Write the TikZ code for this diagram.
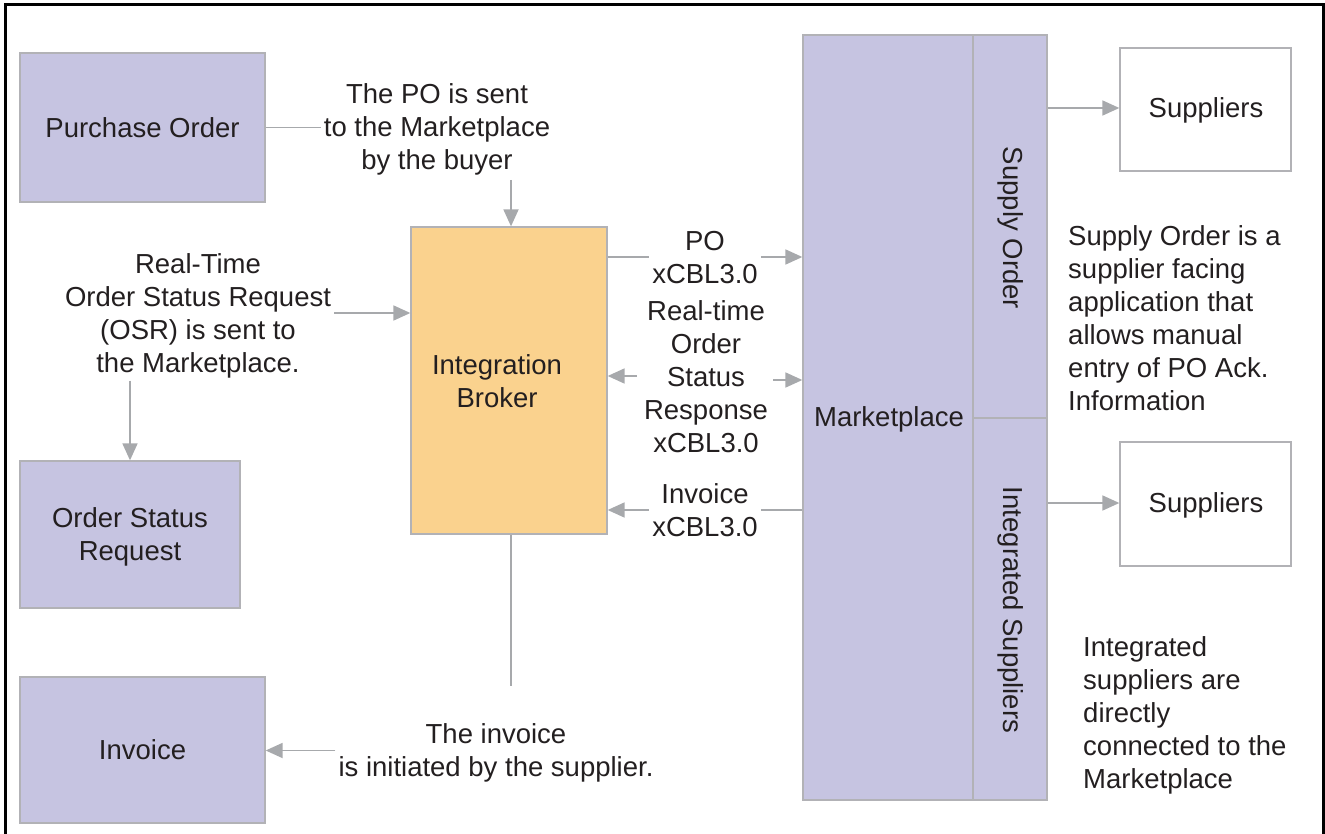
\documentclass[tikz,border=0pt]{standalone}
\usepackage{fontspec}
\setmainfont{Liberation Sans}
\usetikzlibrary{arrows.meta}
\definecolor{lav}{HTML}{C6C4E1}
\definecolor{orng}{HTML}{FAD28E}
\definecolor{edge}{HTML}{B2B2B6}
\definecolor{wire}{HTML}{A7A9AC}
\definecolor{ink}{HTML}{231F20}
\tikzset{
  txt/.style={font=\fontsize{27.5}{33}\selectfont, text=ink, inner sep=3pt},
  flat/.style={txt, text depth=0pt},
  lbl/.style={flat, align=center},
  note/.style={flat, align=left, anchor=west},
  blk/.style={txt, draw=edge, line width=1.3pt, align=center, inner sep=0pt},
  pbox/.style={blk, fill=lav},
  obox/.style={blk, fill=orng},
  wbox/.style={blk, fill=white},
  conn/.style={draw=wire, line width=1.8pt},
  arr/.style={conn, -{Triangle[length=17pt,width=15pt]}},
}
\begin{document}
\begin{tikzpicture}[x=1pt,y=-1pt]
\useasboundingbox (0,0) rectangle (1325,834);
% outer frame, open at the bottom edge
\draw[line width=3pt, line join=miter] (5,840) -- (5,5) -- (1323,5) -- (1323,840);

% left-hand document boxes
\node[pbox, minimum width=245pt, minimum height=149pt] (po) at (142.5,127.5) {Purchase Order};
\node[pbox, minimum width=220pt, minimum height=147pt] (osr) at (130,534.5) {};
\node[lbl] (osrtext) at (130,534.5) {Order Status\\Request};
\node[pbox, minimum width=245pt, minimum height=146pt] (inv) at (142.5,750) {Invoice};

% integration broker
\node[obox, minimum width=196pt, minimum height=307pt] (ib) at (509,380.5) {};
\node[lbl] (ibtext) at (497,381) {Integration\\Broker};

% marketplace block with its two side columns
\node[pbox, minimum width=170pt, minimum height=765pt] (mp) at (888,417.5) {};
\node[pbox, minimum width=74pt, minimum height=383pt] (so) at (1010,226.5) {};
\node[pbox, minimum width=74pt, minimum height=382pt] (is) at (1010,609) {};
\node[flat] (mptext) at (889,417) {Marketplace};
\node[txt, rotate=-90] (sotext) at (1011,228) {Supply Order};
\node[txt, rotate=-90] (istext) at (1011,610) {Integrated Suppliers};

% supplier boxes
\node[wbox, minimum width=171pt, minimum height=123pt] (sup1) at (1205.5,109.5) {};
\node[flat] (sup1t) at (1206,108) {Suppliers};
\node[wbox, minimum width=171pt, minimum height=124pt] (sup2) at (1205.5,504) {};
\node[flat] (sup2t) at (1206,503) {Suppliers};

% flow labels
\node[lbl] (polbl) at (437,127) {The PO is sent\\to the Marketplace\\by the buyer};
\node[lbl] (osrlbl) at (198,313) {Real-Time\\Order Status Request\\(OSR) is sent to\\the Marketplace.};
\node[lbl] (invlbl) at (496,750.5) {The invoice\\is initiated by the supplier.};
\node[lbl] (poxl) at (705,257) {PO\\xCBL3.0};
\node[lbl] (rtxl) at (706,377) {Real-time\\Order\\Status\\Response\\xCBL3.0};
\node[lbl] (ivxl) at (705,510) {Invoice\\xCBL3.0};

% descriptive notes
\node[note] (sonote) at (1065,318.5) {Supply Order is a\\supplier facing\\application that\\allows manual\\entry of PO Ack.\\Information};
\node[note] (isnote) at (1080,713) {Integrated\\suppliers are\\directly\\connected to the\\Marketplace};

% free ends of connectors
\coordinate (pohead) at (511,180);
\coordinate (rtleft) at (637,376);
\coordinate (rtright) at (773,380);
\coordinate (ibfoot) at (511,686);
\coordinate (osrfoot) at ([yshift=-5pt]osrlbl.south);

% connectors
\draw[conn] (po.east) -- (polbl.west |- po.east);
\draw[arr] (pohead) -- (pohead |- ib.north);
\draw[arr] (osrlbl.east) -- (ib.west |- osrlbl.east);
\draw[arr] (osrfoot -| osr.north) -- (osr.north);
\draw[conn] (ibfoot |- ib.south) -- (ibfoot);
\draw[arr] (invlbl.west) -- (inv.east |- invlbl.west);

\draw[conn] (ib.east |- poxl) -- (poxl.west);
\draw[arr] (poxl.east) -- (mp.west |- poxl);
\draw[arr] (rtleft) -- (ib.east |- rtleft);
\draw[arr] (rtright) -- (mp.west |- rtright);
\draw[arr] (ivxl.west) -- (ib.east |- ivxl);
\draw[conn] (mp.west |- ivxl) -- (ivxl.east);

\draw[arr] (so.east |- sup1t) -- (sup1.west |- sup1t);
\draw[arr] (is.east |- sup2t) -- (sup2.west |- sup2t);
\end{tikzpicture}
\end{document}
